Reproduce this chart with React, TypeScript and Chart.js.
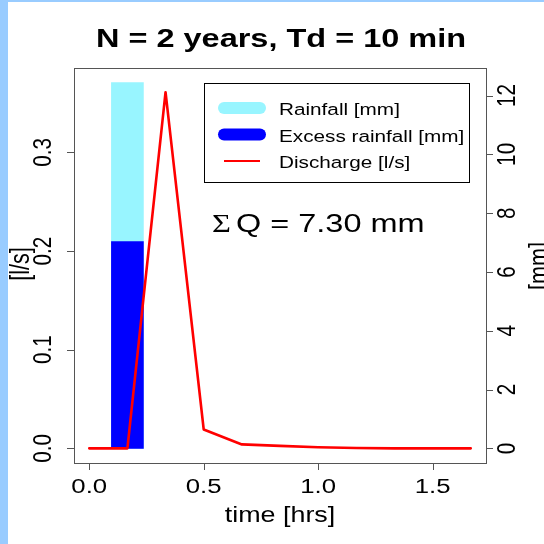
import React, { useEffect, useRef } from "react";
import { Chart, registerables } from "chart.js";

Chart.register(...registerables);

// ---------- data ----------
const TITLE = "N = 2 years, Td = 10 min";
const timeHrs = [0, 0.1667, 0.3333, 0.5, 0.6667, 0.8333, 1.0, 1.1667, 1.3333, 1.5, 1.6667];
const dischargeLs = [0, 0, 0.361, 0.0192, 0.004, 0.0025, 0.0012, 0.0003, 0, 0, 0];
const rainTimeHrs = [0.1667];
const rainfallMm = [12.44];
const excessRainMm = [7.03];
const SUM_Q_TEXT = "Q = 7.30 mm";

const xTicks = [0, 0.5, 1.0, 1.5];
const xTickLabels = ["0.0", "0.5", "1.0", "1.5"];
const leftTicks = [0, 0.1, 0.2, 0.3];
const leftTickLabels = ["0.0", "0.1", "0.2", "0.3"];
const rightTicks = [0, 2, 4, 6, 8, 10, 12];
const rightTickLabels = ["0", "2", "4", "6", "8", "10", "12"];

const X_LIM = [0, 1.6667];
const Y_LIM = [0, 0.3707];
const Y2_LIM = [0, 12.44];

const LABEL_RAIN = "Rainfall [mm]";
const LABEL_EXCESS = "Excess rainfall [mm]";
const LABEL_Q = "Discharge [l/s]";

// ---------- style ----------
const SANS = "'Liberation Sans', Arial, Helvetica, sans-serif";
const SERIF = "'Liberation Serif', 'DejaVu Serif', serif";
const SX = 1.12;
const SY = 0.9;
const C_RAIN = "#98F5FF";
const C_EXCESS = "#0000FF";
const C_Q = "#FF0000";
const C_BG = "#99CCFF";
const C_AXIS = "#555555";

function ext(lim: number[]) {
  const d = (lim[1] - lim[0]) * 0.04;
  return { min: lim[0] - d, max: lim[1] + d };
}

function drawText(
  ctx: CanvasRenderingContext2D,
  s: string,
  x: number,
  y: number,
  font: string,
  align: CanvasTextAlign,
  baseline: CanvasTextBaseline,
  rot = 0,
  color = "#000"
) {
  ctx.save();
  ctx.translate(x, y);
  ctx.scale(SX, SY);
  ctx.rotate(rot);
  ctx.font = font;
  ctx.textAlign = align;
  ctx.textBaseline = baseline;
  ctx.fillStyle = color;
  ctx.fillText(s, 0, 0);
  ctx.restore();
}

const decorPlugin = {
  id: "rstyle",
  beforeDraw(chart: any) {
    const ctx = chart.ctx as CanvasRenderingContext2D;
    const W = chart.width;
    const H = chart.height;
    ctx.save();
    ctx.fillStyle = C_BG;
    ctx.fillRect(0, 0, W, H);
    ctx.fillStyle = "#FFFFFF";
    ctx.fillRect(8, 2, W - 8, H - 2);
    ctx.restore();
  },
  afterDraw(chart: any) {
    const ctx = chart.ctx as CanvasRenderingContext2D;
    const a = chart.chartArea;
    const xs = chart.scales.x;
    const ys = chart.scales.y;
    const y2 = chart.scales.y2;
    ctx.save();
    // box
    ctx.strokeStyle = C_AXIS;
    ctx.lineWidth = 1;
    ctx.strokeRect(Math.round(a.left) + 0.5, Math.round(a.top) + 0.5, Math.round(a.right - a.left), Math.round(a.bottom - a.top));
    const TL = 7;
    ctx.beginPath();
    xTicks.forEach((v) => {
      const px = Math.round(xs.getPixelForValue(v)) + 0.5;
      ctx.moveTo(px, a.bottom);
      ctx.lineTo(px, a.bottom + TL);
    });
    leftTicks.forEach((v) => {
      const py = Math.round(ys.getPixelForValue(v)) + 0.5;
      ctx.moveTo(a.left, py);
      ctx.lineTo(a.left - TL, py);
    });
    rightTicks.forEach((v) => {
      const py = Math.round(y2.getPixelForValue(v)) + 0.5;
      ctx.moveTo(a.right, py);
      ctx.lineTo(a.right + TL, py);
    });
    ctx.stroke();

    const tickFont = `23px ${SANS}`;
    xTicks.forEach((v, i) => {
      drawText(ctx, xTickLabels[i], xs.getPixelForValue(v), a.bottom + 30, tickFont, "center", "alphabetic");
    });
    leftTicks.forEach((v, i) => {
      drawText(ctx, leftTickLabels[i], a.left - 23, ys.getPixelForValue(v), tickFont, "center", "alphabetic", -Math.PI / 2);
    });
    rightTicks.forEach((v, i) => {
      drawText(ctx, rightTickLabels[i], a.right + 29, y2.getPixelForValue(v), tickFont, "center", "alphabetic", -Math.PI / 2);
    });

    // titles
    const cx = (a.left + a.right) / 2;
    drawText(ctx, TITLE, cx + 1, 47, `bold 29px ${SANS}`, "center", "alphabetic");
    drawText(ctx, "time [hrs]", cx, a.bottom + 59, `24px ${SANS}`, "center", "alphabetic");
    drawText(ctx, "[l/s]", 29, 264, `24px ${SANS}`, "center", "alphabetic", -Math.PI / 2);
    drawText(ctx, "[mm]", a.right + 62, 266, `24px ${SANS}`, "center", "alphabetic", -Math.PI / 2);

    // legend
    const lx = a.left + 130;
    const ly = a.top + 15;
    const lw = 265;
    const lh = 99;
    ctx.strokeStyle = "#000";
    ctx.lineWidth = 1;
    ctx.strokeRect(Math.round(lx) + 0.5, Math.round(ly) + 0.5, lw, lh);
    const items = [
      { label: LABEL_RAIN, color: C_RAIN, w: 12 },
      { label: LABEL_EXCESS, color: C_EXCESS, w: 12 },
      { label: LABEL_Q, color: C_Q, w: 2 },
    ];
    items.forEach((it, i) => {
      const ry = ly + 25 + i * 26.5;
      ctx.beginPath();
      ctx.strokeStyle = it.color;
      ctx.lineWidth = it.w;
      ctx.lineCap = it.w > 4 ? "round" : "butt";
      ctx.moveTo(lx + 20, ry);
      ctx.lineTo(lx + 56, ry);
      ctx.stroke();
      drawText(ctx, it.label, lx + 75, ry + 7, `18.5px ${SANS}`, "left", "alphabetic");
    });

    // sum Q annotation
    drawText(ctx, "\u03A3", 212, 232, `29px ${SERIF}`, "left", "alphabetic");
    drawText(ctx, SUM_Q_TEXT, 236, 232, `29px ${SANS}`, "left", "alphabetic");
    ctx.restore();
  },
};

export default function App() {
  const ref = useRef<HTMLCanvasElement>(null);
  useEffect(() => {
    if (!ref.current) return;
    const xr = ext(X_LIM);
    const yr = ext(Y_LIM);
    const y2r = ext(Y2_LIM);
    const chart = new Chart(ref.current, {
      type: "bar",
      data: {
        datasets: [
          {
            type: "line",
            label: LABEL_Q,
            data: timeHrs.map((t, i) => ({ x: t, y: dischargeLs[i] })),
            borderColor: C_Q,
            borderWidth: 2.6,
            borderJoinStyle: "round",
            borderCapStyle: "round",
            pointRadius: 0,
            tension: 0,
            yAxisID: "y",
            order: 0,
          } as any,
          {
            type: "bar",
            label: LABEL_EXCESS,
            data: rainTimeHrs.map((t, i) => ({ x: t, y: excessRainMm[i] })),
            backgroundColor: C_EXCESS,
            borderWidth: 0,
            barThickness: 32,
            grouped: false,
            yAxisID: "y2",
            order: 1,
          } as any,
          {
            type: "bar",
            label: LABEL_RAIN,
            data: rainTimeHrs.map((t, i) => ({ x: t, y: rainfallMm[i] })),
            backgroundColor: C_RAIN,
            borderWidth: 0,
            barThickness: 32,
            grouped: false,
            yAxisID: "y2",
            order: 2,
          } as any,
        ],
      },
      options: {
        responsive: false,
        animation: false,
        devicePixelRatio: 1,
        layout: { padding: { left: 74, top: 68, right: 58, bottom: 81 } },
        plugins: { legend: { display: false }, title: { display: false }, tooltip: { enabled: false } },
        scales: {
          x: { type: "linear", min: xr.min, max: xr.max, display: false, offset: false },
          y: { type: "linear", min: yr.min, max: yr.max, display: false },
          y2: { type: "linear", min: y2r.min, max: y2r.max, display: false, position: "right" },
        },
      },
      plugins: [decorPlugin],
    });
    return () => chart.destroy();
  }, []);
  return (
    <canvas
      ref={ref}
      width={544}
      height={544}
      style={{ position: "fixed", left: 0, top: 0, width: 544, height: 544 }}
    />
  );
}
